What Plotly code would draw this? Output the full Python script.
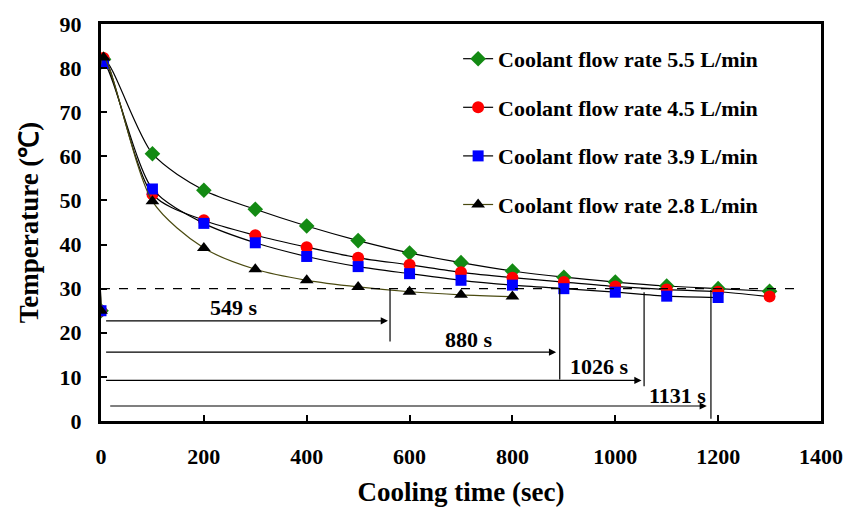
import plotly.graph_objects as go

# ---- data ----
t_55 = [0, 5, 100, 200, 300, 400, 500, 600, 700, 800, 900, 1000, 1100, 1200, 1300]
T_55 = [25, 82.0, 60.6, 52.3, 48.0, 44.2, 40.9, 38.1, 35.9, 34.0, 32.6, 31.5, 30.6, 30.0, 29.4]

t_45 = [0, 5, 100, 200, 300, 400, 500, 600, 700, 800, 900, 1000, 1100, 1200, 1300]
T_45 = [25, 82.3, 51.4, 45.5, 42.1, 39.4, 37.0, 35.4, 33.7, 32.5, 31.5, 30.5, 29.8, 29.3, 28.2]

t_39 = [0, 5, 100, 200, 300, 400, 500, 600, 700, 800, 900, 1000, 1100, 1200]
T_39 = [25, 81.1, 52.6, 44.8, 40.4, 37.3, 35.0, 33.4, 31.9, 30.8, 30.0, 29.2, 28.3, 28.0]

t_28 = [0, 5, 100, 200, 300, 400, 500, 600, 700, 800]
T_28 = [25, 82.4, 49.8, 39.2, 34.4, 31.9, 30.4, 29.3, 28.6, 28.2]

series_names = ["Coolant flow rate 5.5 L/min", "Coolant flow rate 4.5 L/min",
                "Coolant flow rate 3.9 L/min", "Coolant flow rate 2.8 L/min"]

threshold = 30
threshold_end = 1365

# annotation arrows
arrow_labels = ["549 s", "880 s", "1026 s", "1131 s"]
arrow_y = [22.7, 15.6, 9.2, 3.4]
arrow_x0 = [7, 7, 7, 15]
arrow_x1 = [558, 885, 1051, 1178]
vline_x = [562, 892, 1056, 1186]
vline_top = [30, 30, 29.2, 29.7]
vline_bot = [18.0, 9.4, 7.9, 0.5]
label_x = [259, 716, 969, 1121]
label_y = [25.7, 18.4, 12.3, 5.8]

x_ticks = list(range(0, 1401, 200))
y_ticks = list(range(0, 91, 10))

FONT = "Liberation Serif"

fig = go.Figure()

styles = [
    dict(color="#138a13", symbol="diamond", size=12, line="black"),
    dict(color="#ff0000", symbol="circle", size=12, line="black"),
    dict(color="#0000ff", symbol="square", size=11, line="black"),
    dict(color="#000000", symbol="triangle-up", size=12, line="#4a4a10"),
]
data = [(t_55, T_55), (t_45, T_45), (t_39, T_39), (t_28, T_28)]

for i, ((x, y), st) in enumerate(zip(data, styles)):
    fig.add_trace(go.Scatter(
        x=x, y=y, mode="lines+markers", name=f"<b>{series_names[i]}</b>",
        legendgroup=f"g{i}",
        line=dict(color=st["line"], width=1.2, shape="spline", smoothing=0.8),
        marker=dict(color=st["color"], symbol=st["symbol"], size=st["size"],
                    line=dict(width=0)),
    ))

shapes = [dict(type="line", xref="x", yref="y", x0=0, x1=threshold_end,
               y0=threshold, y1=threshold,
               line=dict(color="black", width=1.2, dash="dash"))]
for i in range(len(arrow_labels)):
    shapes.append(dict(type="line", xref="x", yref="y", x0=vline_x[i], x1=vline_x[i],
                       y0=vline_top[i], y1=vline_bot[i],
                       line=dict(color="black", width=1.2)))

annotations = []
for i in range(len(arrow_labels)):
    annotations.append(dict(x=arrow_x1[i], y=arrow_y[i], ax=arrow_x0[i], ay=arrow_y[i],
                            xref="x", yref="y", axref="x", ayref="y",
                            showarrow=True, arrowhead=2, arrowsize=1.2, arrowwidth=1.2,
                            arrowcolor="black", text=""))
    annotations.append(dict(x=label_x[i], y=label_y[i], xref="x", yref="y",
                            text=f"<b>{arrow_labels[i]}</b>", showarrow=False,
                            font=dict(family=FONT, size=22, color="black")))

fig.update_layout(
    width=858, height=514,
    margin=dict(l=101, r=37, t=16, b=91),
    paper_bgcolor="white", plot_bgcolor="white",
    font=dict(family=FONT, size=22, color="black"),
    shapes=shapes, annotations=annotations,
    legend=dict(x=0.496, y=0.965, xanchor="left", yanchor="top",
                font=dict(family=FONT, size=22, color="black"),
                bgcolor="rgba(0,0,0,0)", tracegroupgap=17,
                itemwidth=30),
    showlegend=True,
)

fig.update_xaxes(range=[0, 1400], tickvals=x_ticks,
                 ticktext=[f"<b>{v}</b>" for v in x_ticks],
                 showgrid=False, zeroline=False, showline=True, linecolor="black",
                 linewidth=3, mirror=True, ticks="inside", ticklen=6, tickwidth=2,
                 tickcolor="black", tickfont=dict(family=FONT, size=22),
                 ticklabelstandoff=14,
                 title=dict(text="<b>Cooling time (sec)</b>", font=dict(family=FONT, size=27),
                            standoff=14))
fig.update_yaxes(range=[0, 90], tickvals=y_ticks,
                 ticktext=[f"<b>{v}</b>" for v in y_ticks],
                 showgrid=False, zeroline=False, showline=True, linecolor="black",
                 linewidth=3, mirror=True, ticks="inside", ticklen=6, tickwidth=2,
                 tickcolor="black", tickfont=dict(family=FONT, size=22),
                 ticklabelstandoff=12,
                 title=dict(text="<b>Temperature (℃)</b>", font=dict(family=FONT, size=27),
                            standoff=14))

fig.write_html("out.html")
